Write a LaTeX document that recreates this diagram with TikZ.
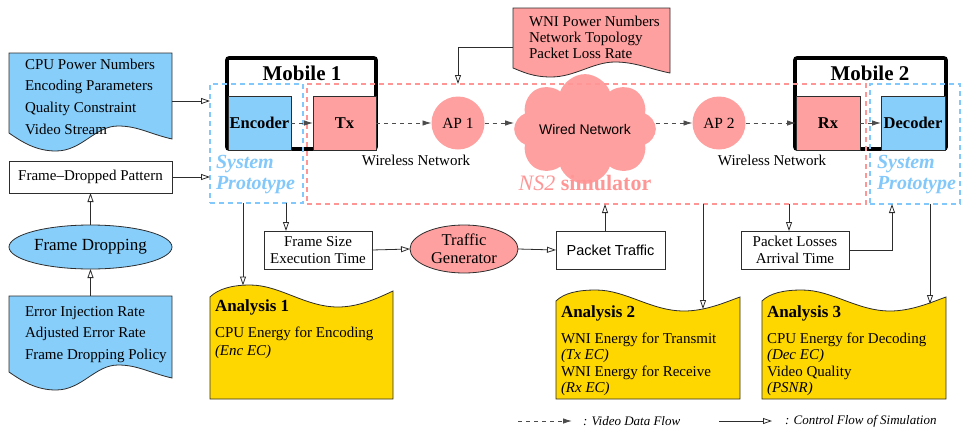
\documentclass[tikz,border=0pt]{standalone}
\usepackage{fontspec}
\setmainfont{Liberation Serif}
\newfontfamily\sansf{Liberation Sans}
\usetikzlibrary{arrows.meta,shapes.geometric,shapes.symbols,calc}

\definecolor{skyfill}{RGB}{135,206,250}
\definecolor{rosefill}{RGB}{255,160,160}
\definecolor{goldfill}{RGB}{255,215,0}
\definecolor{edgegray}{RGB}{45,45,45}
\definecolor{simpink}{RGB}{255,150,150}
\definecolor{protoblue}{RGB}{130,200,250}

\newcommand\setfs[2]{\fontsize{#1}{#2}\selectfont}

\begin{document}
\begin{tikzpicture}[x=1pt,y=-1pt,
  ctrl/.style={draw=edgegray, line width=0.8pt, -{Triangle[open,length=9pt,width=6pt,line width=0.8pt]}},
  dataflow/.style={draw=black!70, line width=0.9pt, dash pattern=on 4pt off 4pt, -{Latex[length=9pt,width=5.5pt]}},
  plainbox/.style={draw=edgegray, line width=0.8pt, fill=white, inner sep=0pt, outer sep=0pt, align=center},
  unitbox/.style={draw=edgegray, line width=0.8pt, inner sep=0pt, outer sep=0pt, minimum height=54pt, font=\setfs{16.5}{18}\bfseries},
  mobilebox/.style={draw=black, line width=3.6pt, rounded corners=2pt, fill=white, inner sep=0pt, outer sep=0pt},
  frame/.style={dash pattern=on 5pt off 4pt, line width=1.6pt, inner sep=0pt, outer sep=0pt},
  ghost/.style={inner sep=0pt, outer sep=0pt},
  txt/.style={inner sep=0pt, outer sep=0pt, align=left},
  docline/.style={draw=edgegray, line width=0.8pt},
]
\useasboundingbox (0,0) rectangle (962,429);

% ---------- input documents ----------
\draw[docline, fill=skyfill] (9,53) -- (172,53) -- (172,139)
  .. controls (150,134) and (138,126) .. (118,126)
  .. controls (95,126) and (82,151) .. (56,151)
  .. controls (36,151) and (22,142) .. (9,133) -- cycle;
\node[ghost, minimum width=163pt, minimum height=80pt] (cpuDoc) at (90.5,93) {};
\node[txt, anchor=west, font=\setfs{15}{21.7}] (cpuTxt) at (25,96.5)
  {CPU Power Numbers\\Encoding Parameters\\Quality Constraint\\Video Stream};

\draw[docline, fill=skyfill] (9,296) -- (172,296) -- (172,378)
  .. controls (150,373) and (138,365) .. (118,365)
  .. controls (95,365) and (82,390) .. (56,390)
  .. controls (36,390) and (22,381) .. (9,372) -- cycle;
\node[ghost, minimum width=163pt, minimum height=76pt] (errDoc) at (90.5,334) {};
\node[txt, anchor=west, font=\setfs{15}{21.5}] (errTxt) at (25,334.5)
  {Error Injection Rate\\Adjusted Error Rate\\Frame Dropping Policy};

\draw[docline, fill=rosefill] (513,8) -- (670,8) -- (670,73)
  .. controls (650,69) and (635,62) .. (615,62)
  .. controls (593,62) and (575,77) .. (551,77)
  .. controls (533,77) and (523,72) .. (513,68) -- cycle;
\node[ghost, minimum width=157pt, minimum height=60pt] (wniDoc) at (591.5,38) {};
\node[txt, anchor=west, font=\setfs{15}{16}] (wniTxt) at (529,37)
  {WNI Power Numbers\\Network Topology\\Packet Loss Rate};

% ---------- frame dropping chain ----------
\node[plainbox, minimum width=163pt, minimum height=32pt, font=\setfs{15}{17}] (fdp) at (90.5,177) {Frame--Dropped Pattern};
\node[ellipse, draw=edgegray, line width=0.8pt, fill=skyfill, inner sep=0pt, outer sep=0pt,
  minimum width=163pt, minimum height=44pt, font=\setfs{17}{19}] (fd) at (90.5,247) {Frame Dropping};

% ---------- mobiles ----------
\node[mobilebox, minimum width=149pt, minimum height=91pt] (m1) at (301.5,103.5) {};
\node[txt, font=\setfs{21}{24}\bfseries] (m1t) at (302,73) {Mobile 1};
\node[unitbox, fill=skyfill, minimum width=63pt] (enc) at (259.5,123) {Encoder};
\node[unitbox, fill=rosefill, minimum width=63pt] (tx) at (344.5,123) {Tx};

\node[mobilebox, minimum width=151pt, minimum height=91pt] (m2) at (870.5,103.5) {};
\node[txt, font=\setfs{21}{24}\bfseries] (m2t) at (870,73) {Mobile 2};
\node[unitbox, fill=rosefill, minimum width=64pt] (rx) at (828,123) {Rx};
\node[unitbox, fill=skyfill, minimum width=64pt] (dec) at (913,123) {Decoder};

% ---------- network ----------
\node[circle, fill=rosefill, minimum size=53pt, inner sep=0pt, outer sep=0pt, font=\setfs{15.5}{18}] (ap1) at (458,123) {AP 1};
\node[circle, fill=rosefill, minimum size=53pt, inner sep=0pt, outer sep=0pt, font=\setfs{15.5}{18}] (ap2) at (719,123) {AP 2};
\node[cloud, cloud puffs=8, cloud puff arc=140, aspect=1.6, fill=rosefill,
  minimum width=132pt, minimum height=80pt, inner sep=0pt, outer sep=0pt,
  font=\sansf\setfs{14}{16}] (cloud) at (585,129) {Wired Network};
\node[txt, font=\setfs{15}{18}] (wl1) at (416,160) {Wireless Network};
\node[txt, font=\setfs{15}{18}] (wl2) at (772,160) {Wireless Network};

% ---------- dashed frames ----------
\node[frame, draw=protoblue, minimum width=93pt, minimum height=119pt] (sp1) at (256.5,143.5) {};
\node[frame, draw=simpink, minimum width=559pt, minimum height=120pt] (ns2) at (586.5,144) {};
\node[frame, draw=protoblue, minimum width=90pt, minimum height=120pt] (sp2) at (915,144) {};
\node[txt, anchor=west, text=protoblue, font=\setfs{20}{21}\bfseries\itshape] (sp1t) at (216,175) {System\\Prototype};
\node[txt, anchor=west, text=protoblue, font=\setfs{20}{21}\bfseries\itshape] (sp2t) at (877,175) {System\\Prototype};
\node[txt, text=simpink, font=\setfs{22}{24}] (ns2t) at (585,183) {\textit{NS2} \textbf{simulator}};

% ---------- intermediate data ----------
\node[plainbox, minimum width=108pt, minimum height=38pt, font=\setfs{15}{17}] (fs) at (318,250) {Frame Size\\Execution Time};
\node[ellipse, draw=edgegray, line width=0.8pt, fill=rosefill, inner sep=0pt, outer sep=0pt,
  minimum width=108pt, minimum height=48pt, align=center, font=\setfs{16.5}{18}] (tg) at (464,249) {Traffic\\Generator};
\node[plainbox, minimum width=109pt, minimum height=38pt, font=\sansf\setfs{14.5}{17}] (pt) at (610.5,250) {Packet Traffic};
\node[plainbox, minimum width=108pt, minimum height=38pt, font=\setfs{15}{17}] (pl) at (795,250) {Packet Losses\\Arrival Time};

% ---------- analysis documents ----------
\draw[docline, fill=goldfill] (210,297)
  .. controls (218,289) and (232,285) .. (250,285)
  .. controls (280,285) and (305,307) .. (338,307)
  .. controls (360,307) and (380,297) .. (393,291)
  -- (393,399) -- (210,399) -- cycle;
\node[txt, anchor=west, font=\setfs{17}{19}\bfseries] (a1t) at (215,307) {Analysis 1};
\node[txt, anchor=west, font=\setfs{15}{18}] (a1b) at (215,343) {CPU Energy for Encoding\\\textit{(Enc EC)}};

\draw[docline, fill=goldfill] (556,301)
  .. controls (564,293) and (578,290) .. (596,290)
  .. controls (626,290) and (651,311) .. (684,311)
  .. controls (706,311) and (726,302) .. (740,297)
  -- (740,399) -- (556,399) -- cycle;
\node[txt, anchor=west, font=\setfs{17}{19}\bfseries] (a2t) at (561,313) {Analysis 2};
\node[txt, anchor=west, font=\setfs{15}{16.4}] (a2b) at (561,364.5)
  {WNI Energy for Transmit\\\textit{(Tx EC)}\\WNI Energy for Receive\\\textit{(Rx EC)}};

\draw[docline, fill=goldfill] (762,301)
  .. controls (770,293) and (784,290) .. (802,290)
  .. controls (832,290) and (857,311) .. (890,311)
  .. controls (912,311) and (932,302) .. (946,297)
  -- (946,399) -- (762,399) -- cycle;
\node[txt, anchor=west, font=\setfs{17}{19}\bfseries] (a3t) at (767,313) {Analysis 3};
\node[txt, anchor=west, font=\setfs{15}{16.4}] (a3b) at (767,364.5)
  {CPU Energy for Decoding\\\textit{(Dec EC)}\\Video Quality\\\textit{(PSNR)}};

% ---------- connector end points ----------
\coordinate (cpuOut) at ([yshift=-8pt]cpuDoc.east);
\coordinate (wniOut) at ([yshift=-9pt]wniDoc.west);
\coordinate (fsTop) at ([xshift=-32pt]fs.north);
\coordinate (ptTop) at ([xshift=-5.5pt]pt.north);
\coordinate (plTop) at ([xshift=-6pt]pl.north);
\coordinate (sp2in) at ([xshift=-23pt]sp2.south);
\coordinate (a1in) at (243,285.5);
\coordinate (a2in) at (703,309);
\coordinate (a3in) at (930,304);

% ---------- video data flow ----------
\draw[dataflow] (enc) -- (tx);
\draw[dataflow] (tx) -- (ap1);
\draw[dataflow] (ap1.east) -- (ap1.east -| cloud.west);
\draw[dataflow] (ap2.west -| cloud.east) -- (ap2.west);
\draw[dataflow] (ap2) -- (rx);
\draw[dataflow] (rx) -- (dec);

% ---------- control flow ----------
\draw[ctrl] (cpuOut) -- (cpuOut -| sp1.west);
\draw[ctrl] (fdp.east) -- (fdp.east -| sp1.west);
\draw[ctrl] (fd.north) -- (fdp.south);
\draw[ctrl] (errDoc.north) -- (fd.south);
\draw[ctrl] (wniOut) -| (ap1 |- ns2.north);
\draw[ctrl] (fsTop |- sp1.south) -- (fsTop);
\draw[ctrl] (a1in |- sp1.south) -- (a1in);
\draw[ctrl] (fs.east) -- (tg.west);
\draw[ctrl] (tg.east) -- (pt.west);
\draw[ctrl] (ptTop) -- (ptTop |- ns2.south);
\draw[ctrl] (a2in |- ns2.south) -- (a2in);
\draw[ctrl] (plTop |- ns2.south) -- (plTop);
\draw[ctrl] (pl.east) -| (sp2in);
\draw[ctrl] (a3in |- sp2.south) -- (a3in);

% ---------- legend ----------
\coordinate (lgA) at (518,421);
\coordinate (lgB) at (572,421);
\coordinate (lgC) at (719,421);
\coordinate (lgD) at (772,421);
\draw[dataflow] (lgA) -- (lgB);
\draw[ctrl] (lgC) -- (lgD);
\node[txt, anchor=west, font=\setfs{13}{15}\itshape] (lgT1) at (583,421) {: Video Data Flow};
\node[txt, anchor=west, font=\setfs{13}{15}\itshape] (lgT2) at (785,421) {: Control Flow of Simulation};
\end{tikzpicture}
\end{document}
